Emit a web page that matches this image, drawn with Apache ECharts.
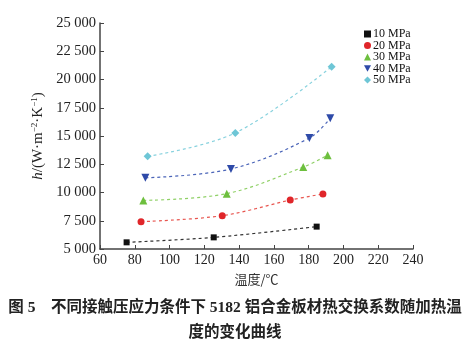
<!DOCTYPE html>
<html><head><meta charset="utf-8">
<script src="https://cdn.jsdelivr.net/npm/echarts@6/dist/echarts.min.js"></script>
<style>html,body{margin:0;padding:0;background:#fff}#c{width:470px;height:350px}</style>
</head><body><div id="c"></div>
<script>
const seriesNames = ['10 MPa','20 MPa','30 MPa','40 MPa','50 MPa'];
const s10 = [[75.3,5590],[125.4,6030],[184.6,6980]];
const s20 = [[83.6,7420],[130.3,7950],[169.4,9330],[188.2,9870]];
const s30 = [[84.9,9300],[132.9,9900],[176.9,12250],[190.9,13300]];
const s40 = [[86.1,11300],[135.3,12080],[180.4,14820],[192.4,16570]];
const s50 = [[87.4,13200],[137.8,15270],[193.2,21130]];
const xTicks = [60,80,100,120,140,160,180,200,220,240];
const yTicks = [5000,7500,10000,12500,15000,17500,20000,22500,25000];
const xLabel = '温度/℃';
const caption1 = '图 5　不同接触压应力条件下 5182 铝合金板材热交换系数随加热温';
const caption2 = '度的变化曲线';

const colors = ['#111111','#e0262a','#6dbf3e','#2e4aa8','#6ec6d6'];
const lineColors = ['#333333','#e8554f','#8fd066','#4a64b8','#88d2de'];
const symbols = ['rect','circle','triangle','triangle','diamond'];
const symbolSizes = [6,7,8,8,8];
const rotates = [0,0,0,180,0];
const legendIcons = ['rect','circle','triangle','path://M0,0L10,0L5,9Z','diamond'];
const datas = [s10,s20,s30,s40,s50];
const fmt = v => { const s = String(v); return s.length>3 ? s.slice(0,s.length-3)+' '+s.slice(-3) : s; };
const serif = '"Liberation Serif","DejaVu Serif",serif';

const chart = echarts.init(document.getElementById('c'), null, {renderer:'canvas'});
chart.setOption({
  animation:false,
  grid:{left:100,right:57,top:23,bottom:101},
  legend:{
    orient:'vertical', left:359, top:23, itemWidth:7, itemHeight:7, itemGap:-0.5,
    textStyle:{fontFamily:serif,fontSize:12,color:'#111',lineHeight:11,padding:[0,0,0,-3]},
    data: seriesNames.map((n,i)=>({name:n,icon:legendIcons[i],itemStyle:{color:colors[i]}}))
  },
  xAxis:{
    type:'value', min:60, max:240, interval:20,
    name:xLabel, nameLocation:'middle', nameGap:24,
    nameTextStyle:{fontFamily:'"Noto Sans CJK SC",sans-serif',fontSize:13,color:'#333'},
    axisLine:{lineStyle:{color:'#444',width:1.5}},
    axisTick:{inside:true,length:4,lineStyle:{color:'#444',width:1}},
    axisLabel:{fontFamily:serif,fontSize:14,color:'#222',margin:4},
    splitLine:{show:false}
  },
  yAxis:{
    type:'value', min:5000, max:25000, interval:2500,
    name:'{i|h}/(W·m{s|−2}·K{s|−1})', nameLocation:'middle', nameGap:49, nameRotate:90,
    nameTextStyle:{fontFamily:serif,fontSize:15,color:'#222',
      rich:{i:{fontFamily:serif,fontSize:15,fontStyle:'italic',color:'#222'},
            s:{fontFamily:serif,fontSize:9,color:'#222',verticalAlign:'top',padding:[0,0,6,0]}}},
    axisLine:{show:true,lineStyle:{color:'#444',width:1.5}},
    axisTick:{show:true,inside:true,length:4,lineStyle:{color:'#444',width:1}},
    axisLabel:{fontFamily:serif,fontSize:14.5,color:'#222',margin:4,formatter:v=>fmt(v)},
    splitLine:{show:false}
  },
  series: datas.map((d,i)=>({
    name:seriesNames[i], type:'line', data:d, smooth:0.35,
    symbol:symbols[i], symbolSize:symbolSizes[i], symbolRotate:rotates[i],
    itemStyle:{color:colors[i]},
    lineStyle:{color:lineColors[i],width:1.2,type:[3,3]},
    z: 2
  })),
  graphic:[
    {type:'text',left:'center',top:300,style:{text:caption1,fontFamily:'"Liberation Serif","Noto Sans CJK SC",serif',fontWeight:'bold',fontSize:15.5,fill:'#222'}},
    {type:'text',left:'center',top:325,style:{text:caption2,fontFamily:'"Liberation Serif","Noto Sans CJK SC",serif',fontWeight:'bold',fontSize:15.5,fill:'#222'}}
  ]
});
</script></body></html>
